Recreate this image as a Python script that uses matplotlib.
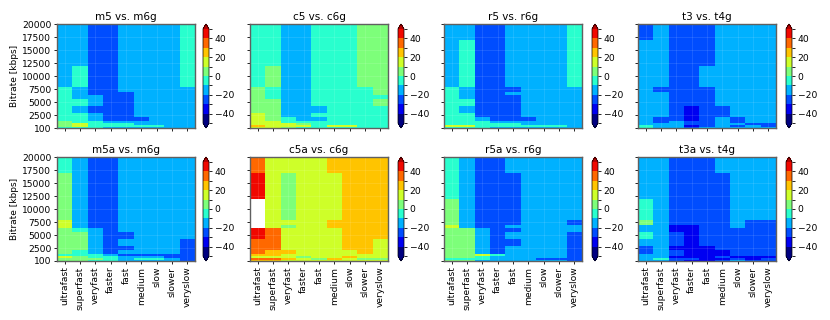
import numpy as np
import matplotlib
matplotlib.use("Agg")
import matplotlib.pyplot as plt
from matplotlib.colors import ListedColormap, BoundaryNorm

presets = ["ultrafast", "superfast", "veryfast", "faster", "fast",
           "medium", "slow", "slower", "veryslow"]
# bitrate cell edges in kbps (bottom -> top)
bitrate_edges = [100, 350, 700, 1000, 1500, 2200, 3000, 4300, 5700,
                 6400, 7000, 8000, 12000, 17000, 20000]
ytick_vals = [100, 2500, 5000, 7500, 10000, 12500, 15000, 17500, 20000]
levels = [-50, -40, -30, -20, -10, 0, 10, 20, 30, 40, 50]
cbar_ticks = [-40, -20, 0, 20, 40]

titles = ["m5 vs. m6g", "c5 vs. c6g", "r5 vs. r6g", "t3 vs. t4g",
          "m5a vs. m6g", "c5a vs. c6g", "r5a vs. r6g", "t3a vs. t4g"]

nan = np.nan
# rows listed top (17000-20000) -> bottom (100-350), columns = presets
m5 = [[-15, -15, -25, -25, -15, -15, -15, -15, -5],
      [-15, -15, -25, -25, -15, -15, -15, -15, -5],
      [-15, -5, -25, -25, -15, -15, -15, -15, -5],
      [-5, -15, -25, -25, -15, -15, -15, -15, -15],
      [-5, -15, -25, -25, -25, -15, -15, -15, -15],
      [-5, -15, -15, -25, -25, -15, -15, -15, -15],
      [-5, -5, -15, -25, -25, -15, -15, -15, -15],
      [-5, -15, -25, -25, -25, -15, -15, -15, -15],
      [-5, -5, -15, -25, -25, -15, -15, -15, -15],
      [-5, -5, -15, -25, -25, -25, -15, -15, -15],
      [5, -5, -5, -15, -15, -15, -15, -15, -15],
      [5, 15, -5, -5, -5, -15, -15, -15, -15],
      [5, 15, -5, -5, -5, -5, -5, -15, -15],
      [-5, -5, -5, -15, -15, -15, -15, -15, -15]]

c5 = [[-5, -5, -15, -15, -5, -5, -5, 5, 5],
      [-5, -5, -15, -15, -5, -5, -5, 5, 5],
      [-5, 5, -15, -15, -5, -5, -5, 5, 5],
      [5, -5, -15, -15, -5, -5, -5, -5, 5],
      [5, -5, -15, -15, -5, -5, -5, -5, 5],
      [5, -5, -15, -15, -5, -5, -5, -5, -5],
      [5, 5, -15, -15, -5, -5, -5, -5, 5],
      [5, 5, -15, -15, -15, -5, -5, -5, -5],
      [15, 5, -15, -15, -5, -5, -5, -5, -5],
      [15, 5, -5, -15, -15, -5, -5, -5, -5],
      [15, 15, -5, -5, -5, -5, -5, -5, -5],
      [15, 15, 15, 5, -5, -5, -5, -5, -5],
      [25, 15, 15, 15, -5, 15, 15, -5, -5],
      [15, 15, 5, -5, -5, -5, -5, -5, -5]]

r5 = [[-15, -15, -25, -25, -15, -15, -15, -15, -5],
      [-15, -5, -25, -25, -15, -15, -15, -15, -5],
      [-15, -5, -25, -25, -15, -15, -15, -15, -5],
      [-5, -15, -25, -25, -25, -15, -15, -15, -15],
      [-5, -15, -25, -25, -15, -15, -15, -15, -15],
      [-5, -15, -25, -25, -25, -15, -15, -15, -15],
      [-5, -5, -25, -25, -25, -15, -15, -15, -15],
      [-5, -15, -25, -25, -25, -15, -15, -15, -15],
      [-5, -5, -25, -25, -25, -15, -15, -15, -15],
      [-5, -5, -15, -25, -25, -25, -15, -15, -15],
      [-5, -5, -5, -15, -15, -15, -15, -15, -15],
      [-5, -5, -5, -5, -5, -15, -15, -15, -15],
      [15, 15, -5, -5, -5, -5, -5, -5, -15],
      [-5, -5, -5, -15, -15, -15, -15, -15, -15]]

t3 = [[-25, -15, -25, -25, -25, -15, -15, -15, -15],
      [-15, -15, -25, -25, -25, -15, -15, -15, -15],
      [-15, -15, -25, -25, -15, -15, -15, -15, -15],
      [-15, -25, -25, -25, -25, -15, -15, -15, -15],
      [-15, -15, -25, -25, -25, -15, -15, -15, -15],
      [-15, -15, -25, -25, -25, -15, -15, -15, -15],
      [-15, -15, -25, -25, -25, -15, -15, -15, -15],
      [-15, -15, -25, -35, -25, -25, -15, -15, -15],
      [-15, -15, -25, -35, -25, -25, -15, -15, -15],
      [-15, -25, -25, -35, -25, -15, -25, -15, -15],
      [-15, -25, -15, -25, -25, -15, -25, -15, -15],
      [-15, -15, -15, -25, -25, -15, -15, -25, -25],
      [-5, -15, -15, -35, -25, -15, -25, -15, -25],
      [-5, -15, -15, -25, -15, -15, -15, -15, -15]]

m5a = [[-5, -15, -25, -25, -15, -15, -15, -15, -15],
       [5, -15, -25, -25, -15, -15, -15, -15, -15],
       [5, -15, -25, -25, -15, -15, -15, -15, -15],
       [15, -15, -25, -25, -15, -15, -15, -15, -15],
       [15, -15, -25, -25, -15, -15, -15, -15, -15],
       [5, -5, -15, -25, -15, -15, -15, -15, -15],
       [5, 5, -15, -25, -25, -15, -15, -15, -15],
       [5, 5, -15, -25, -15, -15, -15, -15, -25],
       [5, 5, -15, -25, -25, -15, -15, -15, -25],
       [5, -5, -15, -25, -15, -15, -15, -15, -25],
       [-5, -5, -5, -15, -25, -25, -25, -25, -25],
       [15, 5, -5, -5, -15, -15, -15, -25, -25],
       [5, 5, 5, -5, -15, -5, -5, -15, -25],
       [5, 5, -5, -5, -15, -15, -15, -15, -25]]

c5a = [[35, 15, 15, 15, 15, 25, 25, 25, 25],
       [45, 15, 5, 15, 15, 15, 25, 25, 25],
       [nan, 15, 5, 15, 15, 15, 25, 25, 25],
       [nan, 15, 15, 15, 15, 25, 25, 25, 25],
       [nan, 15, 5, 15, 15, 25, 25, 25, 25],
       [45, 35, 15, 15, 15, 15, 25, 25, 25],
       [45, 35, 15, 15, 15, 15, 25, 25, 25],
       [35, 35, 15, 15, 15, 15, 25, 25, 15],
       [35, 35, 15, 15, 15, 15, 25, 25, 15],
       [35, 25, 25, 15, 15, 15, 15, 25, 15],
       [25, 25, 15, 15, 15, 15, 15, 15, 15],
       [15, 15, 15, 5, 15, 15, 25, 15, 15],
       [35, 35, 25, 15, 5, 25, 15, 5, 5],
       [25, 25, 15, 15, 15, 15, 15, 15, 15]]

r5a = [[-5, -15, -25, -25, -15, -15, -15, -15, -15],
       [-5, -15, -25, -25, -25, -15, -15, -15, -15],
       [5, -15, -25, -25, -25, -15, -15, -15, -15],
       [5, -15, -25, -25, -25, -15, -15, -15, -25],
       [15, -15, -25, -25, -15, -15, -15, -15, -15],
       [5, 5, -15, -25, -25, -15, -15, -15, -15],
       [5, 5, -15, -25, -15, -15, -15, -15, -25],
       [5, 5, -15, -25, -25, -15, -15, -15, -25],
       [5, 5, -15, -25, -15, -15, -15, -15, -25],
       [5, 5, -15, -25, -15, -15, -15, -15, -25],
       [5, 5, 15, -5, -15, -15, -15, -15, -25],
       [5, 5, -5, -15, -15, -15, -15, -15, -25],
       [-5, -5, -5, -15, -15, -15, -25, -25, -25],
       [5, 5, -15, -15, -15, -15, -15, -15, -25]]

t3a = [[-15, -15, -25, -25, -25, -15, -15, -15, -15],
       [-15, -15, -25, -25, -25, -25, -15, -15, -15],
       [-5, -15, -25, -25, -25, -25, -15, -15, -15],
       [5, -15, -25, -25, -25, -25, -15, -25, -25],
       [-15, -15, -35, -35, -25, -25, -15, -25, -25],
       [-15, -15, -35, -35, -25, -25, -25, -25, -25],
       [-5, -15, -25, -35, -25, -25, -25, -25, -25],
       [-15, -15, -25, -35, -25, -25, -25, -25, -25],
       [-25, -15, -35, -35, -35, -25, -25, -25, -25],
       [-25, -15, -25, -35, -35, -35, -25, -25, -25],
       [-15, -15, -25, -35, -35, -35, -25, -25, -25],
       [-15, -15, -35, -35, -35, -25, -35, -35, -35],
       [-15, -5, -25, -25, -35, -35, -25, -35, -25],
       [-15, -15, -25, -35, -35, -25, -15, -25, -25]]

panels = [m5, c5, r5, t3, m5a, c5a, r5a, t3a]

jet = plt.get_cmap("jet")
cmap = ListedColormap(jet(np.linspace(0, 0.9, 10)))
cmap.set_under(jet(0.0))
cmap.set_over(jet(0.95))
cmap.set_bad("white")
norm = BoundaryNorm(levels, cmap.N)

fig = plt.figure(figsize=(8.3, 3.2), dpi=100)
W, H = 830.0, 320.0
lefts = [57, 250, 444, 638]
cb_lefts = [203, 398, 592, 786]
tops = [24, 157]
ax_w, ax_h = 138, 104

x_edges = np.arange(len(presets) + 1) - 0.5
for i, (data, title) in enumerate(zip(panels, titles)):
    row, col = divmod(i, 4)
    ax = fig.add_axes([lefts[col] / W, 1 - (tops[row] + ax_h) / H, ax_w / W, ax_h / H])
    Z = np.array(data, dtype=float)[::-1]
    mesh = ax.pcolormesh(x_edges, bitrate_edges, Z, cmap=cmap, norm=norm)
    ax.set_ylim(100, 20000)
    ax.set_xticks(np.arange(len(presets)))
    ax.set_yticks(ytick_vals)
    if row == 1:
        ax.set_xticklabels(presets, rotation=90)
    else:
        ax.set_xticklabels([])
    if col == 0:
        ax.set_ylabel("Bitrate [kbps]", fontsize=6.5, labelpad=2)
    else:
        ax.set_yticklabels([])
    ax.tick_params(labelsize=6.6, length=2.5, width=0.6, pad=1.5)
    ax.grid(True, color="white", alpha=0.12, linewidth=0.6)
    for sp in ax.spines.values():
        sp.set_color("#606060")
        sp.set_linewidth(1.0)
    ax.set_title(title, fontsize=7.5, pad=3)

    cax = fig.add_axes([cb_lefts[col] / W, 1 - (tops[row] + ax_h) / H, 6 / W, ax_h / H])
    cb = fig.colorbar(mesh, cax=cax, extend="both", ticks=cbar_ticks)
    cb.ax.tick_params(labelsize=6.6, length=2.5, width=0.6, pad=1.5)
    cb.outline.set_linewidth(0.5)

fig.savefig("out.png", dpi=100)
